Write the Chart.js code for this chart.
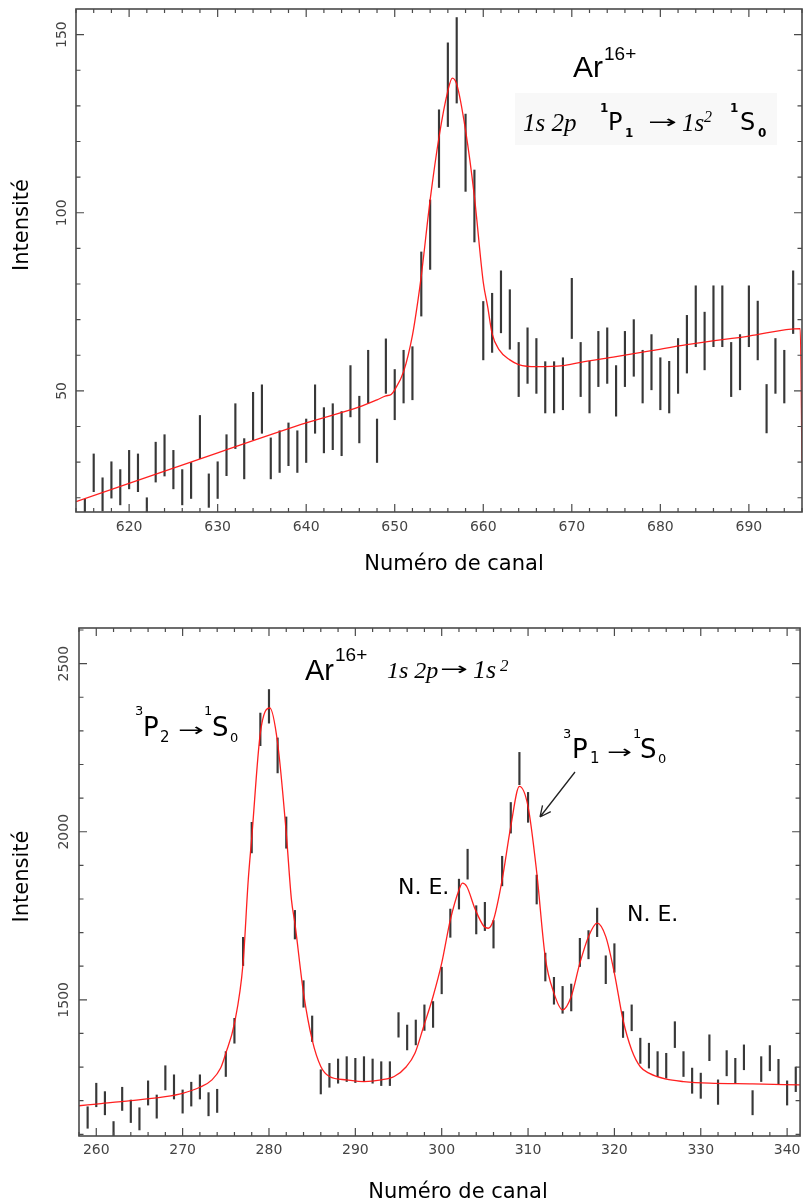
<!DOCTYPE html>
<html><head><meta charset="utf-8">
<script src="https://cdn.jsdelivr.net/npm/chart.js@4/dist/chart.umd.min.js"></script>
<style>
html,body{margin:0;padding:0;background:#fff;width:806px;height:1204px;overflow:hidden}
#c1{position:absolute;left:0;top:0}
#c2{position:absolute;left:0;top:600px}
</style></head><body>
<canvas id="c1" width="806" height="600"></canvas>
<canvas id="c2" width="806" height="604"></canvas>
<script>
// ---------- Top spectrum (1s2p 1P1 -> 1s2 1S0) ----------
const topChannels = [615,616,617,618,619,620,621,622,623,624,625,626,627,628,629,630,631,632,633,634,635,636,637,638,639,640,641,642,643,644,645,646,647,648,649,650,651,652,653,654,655,656,657,658,659,660,661,662,663,664,665,666,667,668,669,670,671,672,673,674,675,676,677,678,679,680,681,682,683,684,685,686,687,688,689,690,691,692,693,694,695];
const topLow  = [12,21.7,16.3,19.9,18.0,22.5,21.7,12,24.4,26.1,22.5,18.0,19.8,31.0,17.3,19.8,26.2,33.8,25.3,36.3,38.1,25.3,27.1,29.0,27.1,29.9,38.1,32.6,33.5,31.8,42.7,35.4,46.6,29.9,49.3,41.9,46.6,47.5,71.0,84.1,107.1,124.2,130.8,106.0,91.8,58.7,60.8,66.3,61.7,48.4,52.1,49.3,43.8,43.8,44.7,64.7,48.4,43.8,51.2,52.1,42.9,51.2,54.1,46.6,50.3,44.7,43.8,49.3,55.0,62.4,55.9,62.4,62.4,48.4,50.3,62.4,58.7,38.2,49.3,46.6,66.1];
const topHigh = [19.6,32.3,25.6,30.1,27.9,33.3,32.3,20.0,35.6,37.7,33.3,27.9,29.9,43.1,26.7,30.1,37.7,46.4,36.6,49.6,51.7,36.8,38.8,41.0,38.8,42.1,51.7,45.3,46.4,44.2,57.1,48.5,61.4,42.1,64.6,56.0,61.4,62.4,89.0,103.6,128.9,147.7,154.8,127.7,112.0,75.1,77.4,83.7,78.4,63.6,67.7,64.7,58.2,58.2,59.3,81.6,63.6,58.3,66.7,67.7,57.1,66.7,70.0,61.4,65.8,59.3,58.3,64.7,71.2,79.5,72.1,79.5,79.5,63.6,65.8,79.5,75.2,51.8,64.7,61.4,83.7];
const topFitX = [614,630,640,646,648,649,649.6,650,651,652,652.6,653,654,655,656,656.5,657,658,659,660,660.5,661,661.8,663,664,666,669,671,675,679,683,690,695.8,696];
const topFitY = [18.9,32.6,41.0,45.5,47.5,48.6,49.0,50.3,55.4,65.6,75.0,82.3,103.6,121.2,134.2,137.8,136.1,123.1,104.5,80.5,73.6,66.1,61.5,58.7,57.4,56.8,57.1,58.0,59.6,61.3,63.0,65.4,67.5,30.0];
const topXTickLabels = [620,630,640,650,660,670,680,690];
const topYTickLabels = [50,100,150];

// ---------- Bottom spectrum (1s2p -> 1s2) ----------
const botChannels = [259,260,261,262,263,264,265,266,267,268,269,270,271,272,273,274,275,276,277,278,279,280,281,282,283,284,285,286,287,288,289,290,291,292,293,294,295,296,297,298,299,300,301,302,303,304,305,306,307,308,309,310,311,312,313,314,315,316,317,318,319,320,321,322,323,324,325,326,327,328,329,330,331,332,333,334,335,336,337,338,339,340,341];
const botLow  = [1118,1182,1158,1075,1171,1135,1113,1187,1148,1232,1205,1163,1184,1205,1155,1165,1272,1371,1602,1937,2256,2323,2175,1951,1681,1478,1376,1220,1240,1252,1257,1254,1257,1252,1245,1245,1389,1351,1366,1409,1418,1518,1686,1770,1859,1696,1706,1654,1839,1996,2140,2028,1785,1556,1487,1460,1467,1599,1622,1688,1548,1582,1388,1408,1311,1297,1272,1267,1358,1272,1222,1207,1319,1189,1274,1252,1292,1158,1257,1289,1250,1187,1227];
const botHigh = [1182,1252,1227,1138,1240,1202,1179,1259,1217,1304,1277,1232,1255,1277,1224,1234,1346,1445,1686,2028,2353,2423,2279,2044,1766,1557,1452,1292,1311,1324,1331,1326,1331,1324,1316,1316,1462,1425,1440,1485,1495,1597,1770,1859,1948,1780,1790,1736,1927,2087,2236,2117,1871,1639,1567,1540,1547,1683,1706,1773,1631,1667,1465,1485,1386,1371,1346,1341,1435,1346,1297,1282,1396,1262,1349,1326,1366,1230,1331,1364,1323,1259,1300];
const botFitX = [258,260,264,268,270,272,273.4,274.4,275,276,277,277.6,278,279,280.1,281,282,282.6,283,284,285,286,287,289,291,293,294.5,295.9,296.9,297.9,299,300,301,302,302.4,302.9,303.9,304.9,305.4,306,307,308,309,310,311,312,313,314,315,316,317,318,319,320,321,322,323,324,326,328,331,336,341.5];
const botFitY = [1185,1190,1200,1212,1222,1240,1262,1297,1341,1430,1609,1857,1981,2294,2368,2264,1996,1798,1728,1520,1381,1302,1272,1262,1257,1262,1272,1301,1341,1420,1510,1609,1738,1827,1847,1837,1768,1718,1713,1738,1857,2016,2135,2075,1880,1625,1520,1470,1510,1609,1688,1728,1688,1579,1440,1351,1301,1282,1264,1257,1252,1250,1247];
const botXTickLabels = [260,270,280,290,300,310,320,330,340];
const botYTickLabels = [1500,2000,2500];

const SANS = '"DejaVu Sans", "Noto Sans", sans-serif';
const ARIAL = '"Liberation Sans", Arial, sans-serif';
const SERIF = '"Liberation Serif", "Times New Roman", serif';
const TICK_COLOR = '#444';

function frameTicks(xMinor, xMajor, yMinor, yMajor) {
  return {
    id: 'frameTicks',
    afterDatasetsDraw(chart) {
      const {ctx, chartArea: a, scales: {x, y}} = chart;
      ctx.save();
      ctx.strokeStyle = '#4a4a4a';
      ctx.lineWidth = 1.2;
      ctx.beginPath();
      for (let v = Math.ceil(x.min / xMinor) * xMinor; v <= x.max; v += xMinor) {
        const p = x.getPixelForValue(v);
        const L = (Math.abs(v / xMajor - Math.round(v / xMajor)) < 1e-9) ? 8 : 4;
        ctx.moveTo(p, a.bottom); ctx.lineTo(p, a.bottom - L);
        ctx.moveTo(p, a.top); ctx.lineTo(p, a.top + L);
      }
      for (let v = Math.ceil(y.min / yMinor) * yMinor; v <= y.max; v += yMinor) {
        const p = y.getPixelForValue(v);
        const L = (Math.abs(v / yMajor - Math.round(v / yMajor)) < 1e-9) ? 8 : 4.5;
        ctx.moveTo(a.left, p); ctx.lineTo(a.left + L, p);
        ctx.moveTo(a.right, p); ctx.lineTo(a.right - L, p);
      }
      ctx.stroke();
      ctx.lineWidth = 1.6;
      ctx.strokeRect(a.left, a.top, a.right - a.left, a.bottom - a.top);
      ctx.restore();
    }
  };
}

function t(ctx, s, x, y, font, align) {
  ctx.font = font; ctx.textAlign = align || 'left'; ctx.textBaseline = 'alphabetic';
  ctx.fillStyle = '#000'; ctx.fillText(s, x, y);
}
function vtitle(ctx, s, x, y, font) {
  ctx.save(); ctx.translate(x, y); ctx.rotate(-Math.PI / 2);
  t(ctx, s, 0, 0, font, 'center'); ctx.restore();
}
// right arrow glyph stretched horizontally to a target width, vertically centred on cy
function arrowGlyph(ctx, x, cy, width, size) {
  ctx.save();
  ctx.font = size + 'px ' + SANS;
  ctx.textAlign = 'left'; ctx.textBaseline = 'middle';
  const w = ctx.measureText('→').width;
  ctx.translate(x, cy);
  ctx.scale(width / w, 1);
  ctx.fillStyle = '#000';
  ctx.fillText('→', 0, 0);
  ctx.restore();
}

const topText = {
  id: 'topText',
  beforeDatasetsDraw(chart) {
    const ctx = chart.ctx;
    ctx.save();
    ctx.fillStyle = '#f8f8f8';
    ctx.fillRect(515, 93, 262, 52);
    ctx.restore();
  },
  afterDraw(chart) {
    const ctx = chart.ctx;
    ctx.save();
    vtitle(ctx, 'Intensité', 28, 225, '21px ' + SANS);
    t(ctx, 'Numéro de canal', 454, 570, '21px ' + SANS, 'center');
    t(ctx, 'Ar', 573, 77, '30px ' + ARIAL);
    t(ctx, '16+', 604, 60, '19px ' + ARIAL);
    t(ctx, '1s 2p', 523, 131, 'italic 25px ' + SERIF);
    t(ctx, '1', 600, 112, 'bold 12px ' + SANS);
    t(ctx, 'P', 608, 130, '24px ' + SANS);
    t(ctx, '1', 625, 137, 'bold 12px ' + SANS);
    arrowGlyph(ctx, 648, 123, 29, 18);
    t(ctx, '1s', 682, 131, 'italic 25px ' + SERIF);
    t(ctx, '2', 704, 122, 'italic 16px ' + SERIF);
    t(ctx, '1', 730, 112, 'bold 12px ' + SANS);
    t(ctx, 'S', 740, 130, '24px ' + SANS);
    t(ctx, '0', 758, 137, 'bold 12px ' + SANS);
    ctx.restore();
  }
};

const botText = {
  id: 'botText',
  afterDraw(chart) {
    const ctx = chart.ctx;
    ctx.save();
    ctx.translate(0, -600);
    vtitle(ctx, 'Intensité', 28.3, 876.5, '21px ' + SANS);
    t(ctx, 'Numéro de canal', 458, 1198, '21px ' + SANS, 'center');
    t(ctx, 'Ar', 305, 680, '29px ' + ARIAL);
    t(ctx, '16+', 335, 661, '19px ' + ARIAL);
    t(ctx, '1s 2p', 387, 678, 'italic 24px ' + SERIF);
    arrowGlyph(ctx, 440, 670, 28, 18);
    t(ctx, '1s', 473, 678, 'italic 26px ' + SERIF);
    t(ctx, '2', 500, 671, 'italic 17px ' + SERIF);
    // 3P2 -> 1S0
    t(ctx, '3', 135, 715, '13px ' + SANS);
    t(ctx, 'P', 143, 736, '26px ' + SANS);
    t(ctx, '2', 160, 742, '15px ' + SANS);
    arrowGlyph(ctx, 178, 731, 26, 18);
    t(ctx, '1', 204, 715, '13px ' + SANS);
    t(ctx, 'S', 212, 736, '26px ' + SANS);
    t(ctx, '0', 230, 742, '13px ' + SANS);
    // 3P1 -> 1S0
    t(ctx, '3', 563, 738, '13px ' + SANS);
    t(ctx, 'P', 572, 758, '26px ' + SANS);
    t(ctx, '1', 590, 763, '15px ' + SANS);
    arrowGlyph(ctx, 607, 753, 25, 18);
    t(ctx, '1', 633, 738, '13px ' + SANS);
    t(ctx, 'S', 640, 758, '26px ' + SANS);
    t(ctx, '0', 658, 763, '13px ' + SANS);
    // pointer arrow
    ctx.strokeStyle = '#222'; ctx.lineWidth = 1.3;
    ctx.beginPath();
    ctx.moveTo(575, 772); ctx.lineTo(540, 817);
    const ang = Math.atan2(817 - 772, 540 - 575);
    for (const d of [-0.45, 0.45]) {
      ctx.moveTo(540, 817);
      ctx.lineTo(540 - 12 * Math.cos(ang + d), 817 - 12 * Math.sin(ang + d));
    }
    ctx.stroke();
    t(ctx, 'N. E.', 398, 894, '22px ' + SANS);
    t(ctx, 'N. E.', 627, 921, '22px ' + SANS);
    ctx.restore();
  }
};

function makeChart(id, cfg) {
  const xs = cfg.xLabels, ys = cfg.yLabels;
  return new Chart(document.getElementById(id), {
    type: 'bar',
    data: {
      datasets: [
        {
          type: 'line',
          data: cfg.fitX.map((x, i) => ({x: x, y: cfg.fitY[i]})),
          borderColor: 'rgba(255,20,20,0.95)',
          borderWidth: 1.3,
          pointRadius: 0,
          cubicInterpolationMode: 'monotone',
          fill: false,
          order: 0
        },
        {
          type: 'bar',
          data: cfg.ch.map((c, i) => ({x: c, y: [cfg.lo[i], cfg.hi[i]]})),
          backgroundColor: '#383838',
          borderWidth: 0,
          barThickness: 1.5,
          grouped: false,
          order: 1
        }
      ]
    },
    options: {
      responsive: false,
      animation: false,
      devicePixelRatio: 1,
      layout: {padding: cfg.padding},
      plugins: {legend: {display: false}, tooltip: {enabled: false}},
      scales: {
        x: {
          type: 'linear', min: cfg.xMin, max: cfg.xMax, offset: false,
          grid: {display: false, drawTicks: false}, border: {display: false},
          afterBuildTicks: s => { s.ticks = xs.map(v => ({value: v})); },
          afterFit: s => { s.height = cfg.xH; },
          ticks: {font: {family: SANS, size: 14}, color: TICK_COLOR, padding: cfg.xPad, maxRotation: 0, autoSkip: false,
                  callback: v => String(v)}
        },
        y: {
          type: 'linear', min: cfg.yMin, max: cfg.yMax,
          grid: {display: false, drawTicks: false}, border: {display: false},
          afterBuildTicks: s => { s.ticks = ys.map(v => ({value: v})); },
          afterFit: s => { s.width = cfg.yW; },
          ticks: {font: {family: SANS, size: 14}, color: TICK_COLOR, padding: cfg.yPad, minRotation: 90, maxRotation: 90, crossAlign: 'center',
                  callback: v => String(v)}
        }
      }
    },
    plugins: [frameTicks(2, 10, cfg.yMinor, cfg.yMajor), cfg.textPlugin]
  });
}

makeChart('c1', {
  ch: topChannels, lo: topLow, hi: topHigh, fitX: topFitX, fitY: topFitY,
  xLabels: topXTickLabels, yLabels: topYTickLabels,
  xMin: 614, xMax: 696, yMin: 16, yMax: 157.2,
  padding: {left: 0, right: 4, top: 4, bottom: 0},
  xH: 88, yW: 76, xPad: 6.5, yPad: 0.6, yMinor: 10, yMajor: 50,
  textPlugin: topText
});
makeChart('c2', {
  ch: botChannels, lo: botLow, hi: botHigh, fitX: botFitX, fitY: botFitY,
  xLabels: botXTickLabels, yLabels: botYTickLabels,
  xMin: 258, xMax: 341.5, yMin: 1095, yMax: 2606,
  padding: {left: 0, right: 1, top: 28, bottom: 0},
  xH: 68, yW: 79, xPad: 5.5, yPad: -2.8, yMinor: 100, yMajor: 500,
  textPlugin: botText
});
</script>
</body></html>
